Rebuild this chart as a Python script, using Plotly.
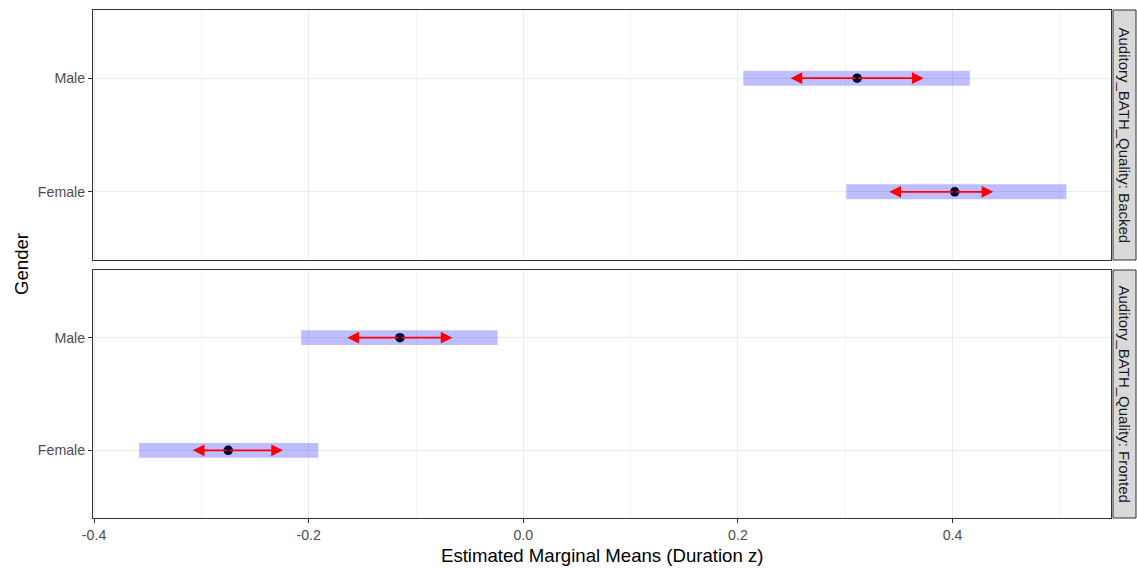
import plotly.graph_objects as go

# ---- data ----
panels = ["Backed", "Fronted"]
genders = ["Female", "Male"]
emmean = {"Backed": [0.402, 0.311], "Fronted": [-0.275, -0.115]}
lower_cl = {"Backed": [0.301, 0.205], "Fronted": [-0.358, -0.207]}
upper_cl = {"Backed": [0.506, 0.416], "Fronted": [-0.191, -0.024]}
arrow_lo = {"Backed": [0.341, 0.249], "Fronted": [-0.308, -0.164]}
arrow_hi = {"Backed": [0.438, 0.373], "Fronted": [-0.224, -0.066]}
x_ticks = [-0.4, -0.2, 0.0, 0.2, 0.4]
x_ticklabels = ["-0.4", "-0.2", "0.0", "0.2", "0.4"]
strip_prefix = "Auditory_BATH_Quality: "

W, H = 1137, 568
ml, mr, mt, mb = 93, 26, 10, 50
pw = W - ml - mr
ph = H - mt - mb

fig = go.Figure()

domains = {"Backed": [(518 - 260) / ph, 1.0], "Fronted": [0.0, (518 - 270) / ph]}
axes = {"Backed": ("x", "y"), "Fronted": ("x2", "y2")}
ypos = [1, 2]

for p in panels:
    xa, ya = axes[p]
    base = lower_cl[p]
    widths = [u - l for u, l in zip(upper_cl[p], lower_cl[p])]
    fig.add_trace(go.Bar(
        y=ypos, x=widths, base=base, orientation="h", width=0.132,
        marker=dict(color="rgba(0,0,255,0.26)", line=dict(width=0)),
        xaxis=xa, yaxis=ya, showlegend=False, hoverinfo="skip"))
    fig.add_trace(go.Scatter(
        x=emmean[p], y=ypos, mode="markers",
        marker=dict(color="#00002e", size=9.5),
        xaxis=xa, yaxis=ya, showlegend=False))
    for i, yv in enumerate(ypos):
        for end in (arrow_lo[p][i], arrow_hi[p][i]):
            fig.add_annotation(
                x=end, y=yv, ax=emmean[p][i], ay=yv,
                xref=xa, yref=ya, axref=xa, ayref=ya,
                showarrow=True, arrowhead=2, arrowsize=1.3, arrowwidth=1.8,
                arrowcolor="red", text="", standoff=0)

grid = dict(showgrid=True, gridcolor="#EBEBEB", gridwidth=1, zeroline=False,
            showline=True, linecolor="#333333", linewidth=1, mirror=True)
tick_font = dict(size=14.2, color="#4D4D4D")

xcommon = dict(range=[-0.401, 0.5476], tickvals=x_ticks, ticktext=x_ticklabels,
               minor=dict(tickvals=[-0.3, -0.1, 0.1, 0.3, 0.5], showgrid=True,
                          gridcolor="#F4F4F4", gridwidth=0.6, ticks=""),
               **grid)
fig.update_layout(
    xaxis=dict(anchor="y", showticklabels=False, ticks="", **xcommon),
    xaxis2=dict(anchor="y2", matches="x", ticks="outside", ticklen=4,
                tickcolor="#333333", tickfont=tick_font, **xcommon),
)
for p, yname in (("Backed", "yaxis"), ("Fronted", "yaxis2")):
    fig.layout[yname] = dict(
        domain=domains[p], range=[0.4, 2.6], tickvals=ypos, ticktext=genders,
        ticks="outside", ticklen=4, tickcolor="#333333", tickfont=tick_font,
        anchor="x" if p == "Backed" else "x2", **grid)

# strips
sx0 = (1113 - ml) / pw
sx1 = (1136 - ml) / pw
for p in panels:
    d0, d1 = domains[p]
    fig.add_shape(type="rect", xref="paper", yref="paper", x0=sx0, x1=sx1,
                  y0=d0, y1=d1, fillcolor="#D9D9D9",
                  line=dict(color="#333333", width=1), layer="below")
    fig.add_annotation(xref="paper", yref="paper", x=(sx0 + sx1) / 2,
                       y=(d0 + d1) / 2, text=strip_prefix + p, textangle=90,
                       xanchor="center", yanchor="middle",
                       showarrow=False, font=dict(size=15, color="#1A1A1A"))

# axis titles
fig.add_annotation(xref="paper", yref="paper", x=0.5, y=-(555 - 518) / ph,
                   text="Estimated Marginal Means (Duration z)", showarrow=False,
                   font=dict(size=18.6, color="#000000"),
                   xanchor="center", yanchor="middle")
fig.add_annotation(xref="paper", yref="paper", x=(21 - ml) / pw, y=0.5,
                   text="Gender", textangle=-90, showarrow=False,
                   font=dict(size=18.6, color="#000000"),
                   xanchor="center", yanchor="middle")

fig.update_layout(
    width=W, height=H, margin=dict(l=ml, r=mr, t=mt, b=mb),
    paper_bgcolor="white", plot_bgcolor="white",
    font=dict(family="Liberation Sans, Arial, sans-serif"),
    barmode="overlay", showlegend=False,
)

fig.write_html("out.html", config={"displayModeBar": False},
               post_script="document.body.style.margin='0px';document.body.style.padding='0px';")
